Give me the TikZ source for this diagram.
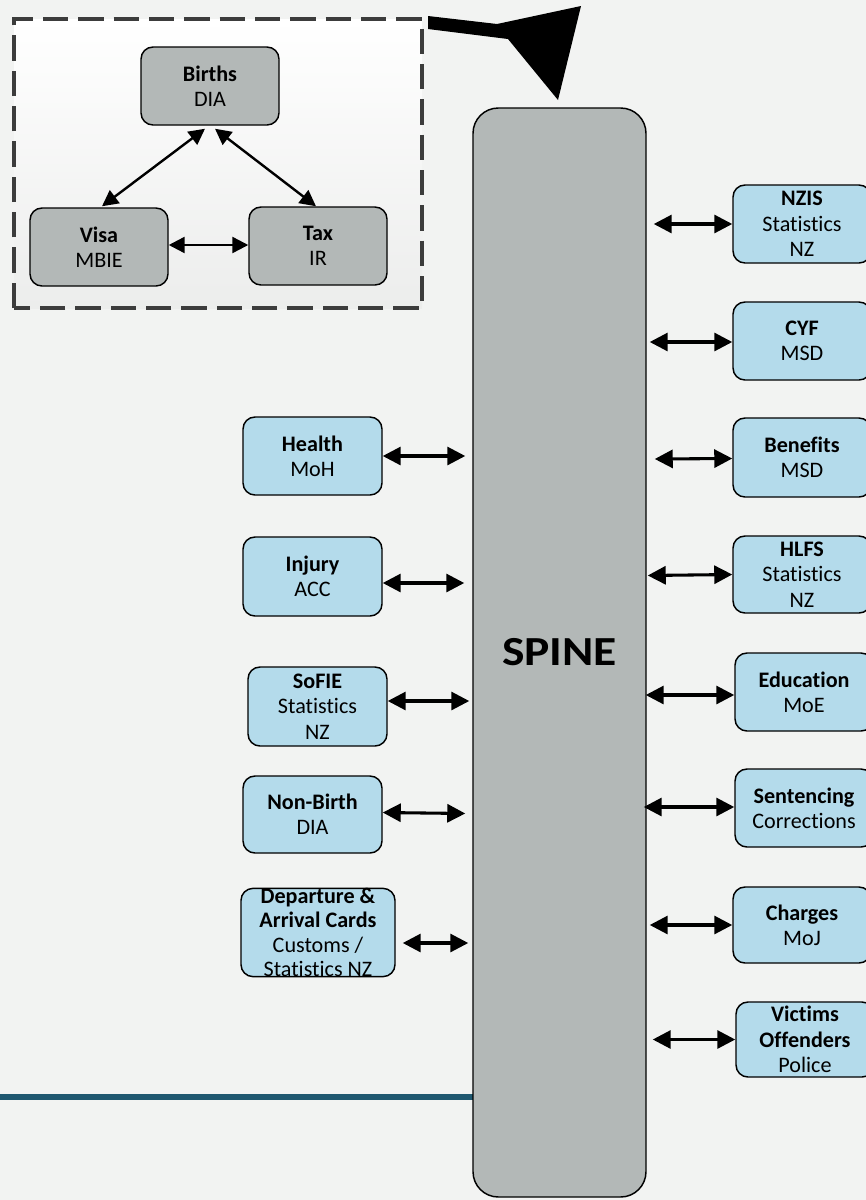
\documentclass[tikz,border=0pt]{standalone}
\usepackage{fontspec}
\setmainfont{Carlito}[Ligatures=NoCommon]
\usetikzlibrary{arrows.meta,calc}
\definecolor{bg}{RGB}{242,243,242}
\definecolor{boxblue}{RGB}{180,219,235}
\definecolor{boxgray}{RGB}{179,184,183}
\definecolor{lineteal}{RGB}{31,88,112}
\definecolor{dashgray}{RGB}{60,60,60}
\definecolor{framebottom}{RGB}{236,237,236}
\begin{document}
\begin{tikzpicture}[x=0.75pt,y=-0.75pt,
  box/.style={draw=black,line width=1.1pt,rounded corners=9pt,align=center,inner sep=0pt,
    font=\fontsize{16.6}{19}\selectfont,text=black,minimum width=103.5pt,minimum height=58.5pt},
  bluebox/.style={box,fill=boxblue},
  graybox/.style={box,fill=boxgray},
  biarrow/.style={{Triangle[length=13.5pt,width=13.5pt]}-{Triangle[length=13.5pt,width=13.5pt]},line width=2.3pt},
  smallarrow/.style={{Triangle[length=12pt,width=12pt]}-{Triangle[length=12pt,width=12pt]},line width=1.8pt},
]
% background and frame
\fill[bg] (0,0) rectangle (866,1200);
\clip (0,0) rectangle (866,1200);

% dashed group frame
\shade[top color=white,bottom color=framebottom] (14,19) rectangle (422,308);
\draw[dashgray,line width=2.4pt,dash pattern=on 19pt off 7.5pt] (14,308) -- (14,19) -- (422,19) -- (422,308) -- cycle;

% teal line
\draw[lineteal,line width=4.5pt] (0,1097) -- (480,1097);

% spine
\node[graybox,rounded corners=19pt,minimum width=129.75pt,minimum height=816.75pt,
  font=\bfseries\fontsize{31}{36}\selectfont] (spine) at (559.5,652.5) {\scalebox{1.15}[1]{SPINE}};

% big black arrow from the frame to the spine
\fill[black] (428,16) -- (497,24) -- (581,6) -- (558,100) -- (508,39) -- (428,29) -- cycle;

% group nodes
\node[graybox] (births) at (210,86) {\textbf{Births}\\DIA};
\node[graybox] (visa) at (99,247) {\textbf{Visa}\\MBIE};
\node[graybox] (tax) at (318,246) {\textbf{Tax}\\IR};

\draw[smallarrow] ($(births.south)+(-5,3)$) -- ($(visa.north)+(3,-1)$);
\draw[smallarrow] ($(births.south)+(5,3)$) -- ($(tax.north)+(-2,0)$);
\draw[smallarrow] ($(visa.east)+(0,-2)$) -- ($(tax.west)+(0,-1)$);

% left nodes
\node[bluebox,minimum width=104.25pt] (health) at (312.5,456) {\textbf{Health}\\MoH};
\node[bluebox,minimum width=104.25pt,minimum height=59.25pt] (injury) at (312.5,576.5) {\textbf{Injury}\\ACC};
\node[bluebox,minimum width=104.25pt,minimum height=59.25pt] (sofie) at (317.5,706.5) {\textbf{SoFIE}\\Statistics\\NZ};
\node[bluebox,minimum width=104.25pt,minimum height=57.75pt] (nonbirth) at (312.5,814.5) {\textbf{Non-Birth}\\DIA};
\node[bluebox,minimum width=115.5pt,minimum height=59.25pt,font=\fontsize{16.6}{18.2}\selectfont] (departure) at (318,932.5)
  {\textbf{Departure \&}\\\textbf{Arrival Cards}\\Customs /\\Statistics NZ};

\draw[biarrow] (health.east) -- ($(spine.west |- health.east)+(-7,0)$);
\draw[biarrow] ($(injury.east)+(0,6.5)$) -- ($(spine.west |- injury.east)+(-8,6.5)$);
\draw[biarrow] ($(sofie.east)+(0,-5.5)$) -- ($(spine.west |- sofie.east)+(-3,-5.5)$);
\draw[biarrow] ($(nonbirth.east)+(0,-2)$) -- ($(spine.west |- nonbirth.east)+(-7,-1)$);
\draw[biarrow] ($(departure.east)+(7,10.5)$) -- ($(spine.west |- departure.east)+(-4,10.5)$);

% right nodes
\node[bluebox] (nzis) at (802,224) {\textbf{NZIS}\\Statistics\\NZ};
\node[bluebox] (cyf) at (802,341) {\textbf{CYF}\\MSD};
\node[bluebox,minimum height=59.25pt] (benefits) at (802,457.5) {\textbf{Benefits}\\MSD};
\node[bluebox,minimum height=57.75pt] (hlfs) at (802,574.5) {\textbf{HLFS}\\Statistics\\NZ};
\node[bluebox] (education) at (804,692) {\textbf{Education}\\MoE};
\node[bluebox] (sentencing) at (804,808) {\textbf{Sentencing}\\Corrections};
\node[bluebox,minimum height=57pt] (charges) at (802,925) {\textbf{Charges}\\MoJ};
\node[bluebox,minimum height=56.25pt] (victims) at (805,1039.5) {\textbf{Victims}\\\textbf{Offenders}\\Police};

\draw[biarrow] ($(spine.east |- nzis.west)+(7,0)$) -- (nzis.west);
\draw[biarrow] ($(spine.east |- cyf.west)+(3,1)$) -- ($(cyf.west)+(0,1)$);
\draw[biarrow] ($(spine.east |- benefits.west)+(8,1.5)$) -- ($(benefits.west)+(0,1)$);
\draw[biarrow] ($(spine.east |- hlfs.west)+(1,1)$) -- ($(hlfs.west)+(0,0)$);
\draw[biarrow] ($(spine.east |- education.west)+(-1,3)$) -- ($(education.west)+(0,3)$);
\draw[biarrow] ($(spine.east |- sentencing.west)+(-3,-1)$) -- ($(sentencing.west)+(0,-1)$);
\draw[biarrow] ($(spine.east |- charges.west)+(3,0)$) -- (charges.west);
\draw[biarrow] ($(spine.east |- victims.west)+(6,0)$) -- (victims.west);
\end{tikzpicture}
\end{document}
